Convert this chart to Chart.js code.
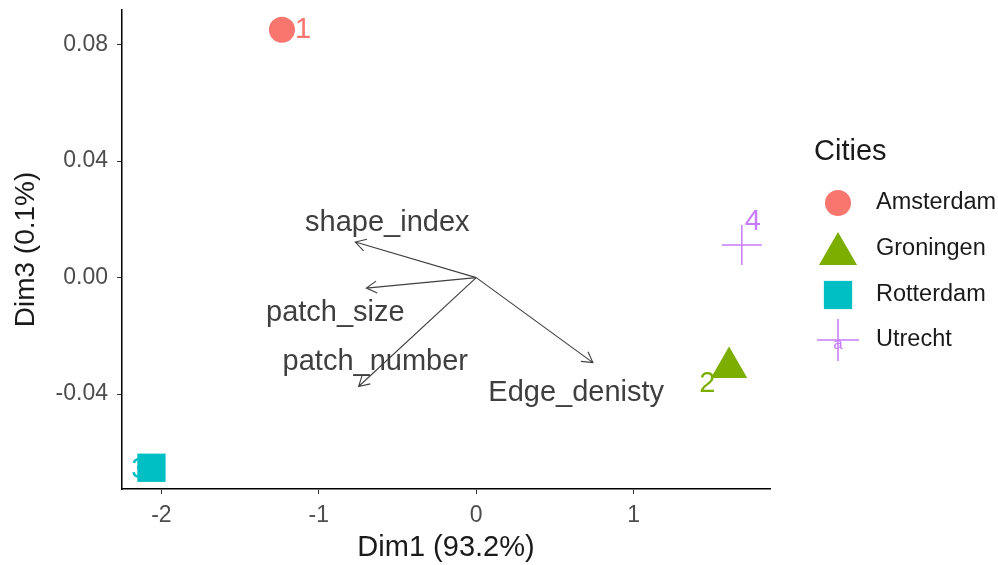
<!DOCTYPE html>
<html>
<head>
<meta charset="utf-8">
<script src="https://cdn.jsdelivr.net/npm/chart.js@4.4.1/dist/chart.umd.min.js"></script>
<style>
html,body{margin:0;padding:0;background:#fff;}
#wrap{width:998px;height:565px;}
canvas{display:block;}
</style>
</head>
<body>
<div id="wrap"><canvas id="c" width="998" height="565"></canvas></div>
<script>
// ---- data ----
const cities = ['Amsterdam', 'Groningen', 'Rotterdam', 'Utrecht'];
const cityIds = ['1', '2', '3', '4'];
const dim1 = [-1.234, 1.606, -2.063, 1.687];
const dim3 = [0.0851, -0.0309, -0.0653, 0.0112];
const idLabelDim1 = [-1.100, 1.468, -2.140, 1.757];
const idLabelDim3 = [0.0850, -0.0365, -0.0661, 0.0190];

const variables = ['shape_index', 'patch_size', 'patch_number', 'Edge_denisty'];
const varDim1 = [-0.768, -0.698, -0.747, 0.741];
const varDim3 = [0.0122, -0.0036, -0.0374, -0.0292];
const varLabelDim1 = [-0.565, -0.895, -0.641, 0.635];
const varLabelDim3 = [0.0188, -0.0121, -0.0290, -0.0396];

const xTicks = [-2, -1, 0, 1];
const yTicks = [-0.04, 0.00, 0.04, 0.08];
const xTitle = 'Dim1 (93.2%)';
const yTitle = 'Dim3 (0.1%)';
const legendTitle = 'Cities';

// ---- styles ----
const FONT = '"Liberation Sans", Arial, Helvetica, sans-serif';
const cityColors = ['#F8766D', '#7CAE00', '#00BFC4', '#C77CFF'];
const cityShapes = ['circle', 'triangle', 'rect', 'cross'];
const citySizes = [13, 21, 20, 20];
const legendSizes = [13, 22, 20, 21];
const arrowColor = '#3f3f3f';

Chart.defaults.font.family = FONT;

function drawShape(ctx, style, r, x, y, color) {
  ctx.save();
  ctx.fillStyle = color; ctx.strokeStyle = color; ctx.lineWidth = 1.5;
  ctx.beginPath();
  if (style === 'circle') { ctx.arc(x, y, r, 0, Math.PI * 2); ctx.fill(); }
  else if (style === 'triangle') {
    for (let k = 0; k < 3; k++) {
      const a = k * 2 * Math.PI / 3;
      const px = x + Math.sin(a) * r, py = y - Math.cos(a) * r;
      if (k === 0) ctx.moveTo(px, py); else ctx.lineTo(px, py);
    }
    ctx.closePath(); ctx.fill();
  } else if (style === 'rect') {
    const s = Math.SQRT1_2 * r; ctx.rect(x - s, y - s, 2 * s, 2 * s); ctx.fill();
  } else if (style === 'cross') {
    ctx.moveTo(x - r, y); ctx.lineTo(x + r, y); ctx.moveTo(x, y - r); ctx.lineTo(x, y + r); ctx.stroke();
  }
  ctx.restore();
}

const overlay = {
  id: 'overlay',
  beforeDatasetsDraw(chart) {
    const { ctx, scales: { x, y } } = chart;
    ctx.save();
    const x0 = x.getPixelForValue(0), y0 = y.getPixelForValue(0);
    ctx.strokeStyle = arrowColor; ctx.lineWidth = 1.1;
    variables.forEach((v, i) => {
      const x1 = x.getPixelForValue(varDim1[i]), y1 = y.getPixelForValue(varDim3[i]);
      const a = Math.atan2(y1 - y0, x1 - x0), L = 12, s = Math.PI / 6;
      ctx.beginPath();
      ctx.moveTo(x0, y0); ctx.lineTo(x1, y1);
      ctx.moveTo(x1 - L * Math.cos(a - s), y1 - L * Math.sin(a - s));
      ctx.lineTo(x1, y1);
      ctx.lineTo(x1 - L * Math.cos(a + s), y1 - L * Math.sin(a + s));
      ctx.stroke();
    });
    ctx.textAlign = 'center'; ctx.textBaseline = 'middle';
    ctx.font = '29px ' + FONT;
    ctx.fillStyle = arrowColor;
    variables.forEach((v, i) => {
      ctx.fillText(v, x.getPixelForValue(varLabelDim1[i]), y.getPixelForValue(varLabelDim3[i]));
    });
    cityIds.forEach((t, i) => {
      ctx.fillStyle = cityColors[i];
      ctx.fillText(t, x.getPixelForValue(idLabelDim1[i]), y.getPixelForValue(idLabelDim3[i]));
    });
    ctx.restore();
  },
  afterDraw(chart) {
    const ctx = chart.ctx;
    ctx.save();
    ctx.textAlign = 'left'; ctx.textBaseline = 'middle';
    ctx.fillStyle = '#1a1a1a';
    ctx.font = '29px ' + FONT;
    ctx.fillText(legendTitle, 814, 152);
    const ys = [203, 249, 295, 340];
    cities.forEach((c, i) => {
      ctx.font = '17px ' + FONT;
      ctx.fillStyle = cityColors[i];
      ctx.textAlign = 'center';
      ctx.fillText('a', 838, ys[i] + 4);
      drawShape(ctx, cityShapes[i], legendSizes[i], 838, ys[i] + (cityShapes[i] === 'triangle' ? 5 : 0), cityColors[i]);
      ctx.textAlign = 'left';
      ctx.fillStyle = '#1a1a1a';
      ctx.font = '23.5px ' + FONT;
      ctx.fillText(c, 876, ys[i]);
    });
    ctx.restore();
  }
};

new Chart(document.getElementById('c'), {
  type: 'scatter',
  data: {
    datasets: cities.map((c, i) => ({
      label: c,
      data: [{ x: dim1[i], y: dim3[i] }],
      pointStyle: cityShapes[i],
      pointRadius: citySizes[i],
      pointHoverRadius: citySizes[i],
      backgroundColor: cityColors[i],
      borderColor: cityColors[i],
      borderWidth: cityShapes[i] === 'cross' ? 1.5 : 0
    }))
  },
  options: {
    responsive: false,
    animation: false,
    events: [],
    layout: { autoPadding: false, padding: { top: 10, right: 228, left: 0, bottom: 0 } },
    plugins: { legend: { display: false }, tooltip: { enabled: false } },
    scales: {
      x: {
        type: 'linear', min: -2.25, max: 1.866,
        afterBuildTicks: s => { s.ticks = xTicks.map(v => ({ value: v })); },
        afterFit: s => { s.height = 76; s.paddingLeft = 0; s.paddingRight = 0; },
        ticks: { color: '#4d4d4d', font: { size: 23 }, padding: 8, callback: v => String(v) },
        grid: { drawOnChartArea: false, drawTicks: true, tickLength: 5, color: '#333', lineWidth: 1 },
        border: { display: true, color: '#000', width: 1.5 },
        title: { display: true, text: xTitle, color: '#1a1a1a', font: { size: 29 }, padding: { top: 0, bottom: 0 } }
      },
      y: {
        type: 'linear', min: -0.0726, max: 0.0919,
        afterBuildTicks: s => { s.ticks = yTicks.map(v => ({ value: v })); },
        afterFit: s => { s.width = 122; s.paddingTop = 0; s.paddingBottom = 0; },
        ticks: { color: '#4d4d4d', font: { size: 23 }, padding: 9, callback: v => v.toFixed(2) },
        grid: { drawOnChartArea: false, drawTicks: true, tickLength: 5, color: '#333', lineWidth: 1 },
        border: { display: true, color: '#000', width: 1.5 },
        title: { display: true, text: yTitle, color: '#1a1a1a', font: { size: 28 }, padding: { top: 9, bottom: 0 } }
      }
    }
  },
  plugins: [overlay]
});
</script>
</body>
</html>
